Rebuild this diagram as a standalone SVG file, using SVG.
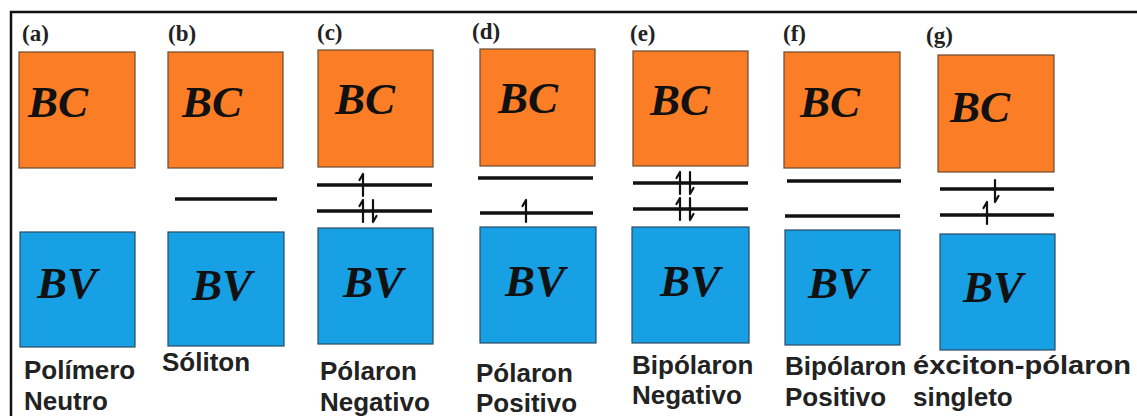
<svg xmlns="http://www.w3.org/2000/svg" width="1137" height="416" viewBox="0 0 1137 416">
<style>
.bc{fill:#FB7E27;stroke:#6b4a30;stroke-width:1.2}
.bv{fill:#17A0E4;stroke:#2a4a66;stroke-width:1.2}
.bt{font-family:"Liberation Serif",serif;font-weight:bold;font-style:italic;font-size:45px;fill:#111}
.tag{font-family:"Liberation Serif",serif;font-weight:bold;font-size:23px;fill:#222}
.lab{font-family:"Liberation Sans",Arial,sans-serif;font-weight:bold;font-size:26px;fill:#222}
.lvl{stroke:#111;stroke-width:3.5;fill:none}
.sp{stroke:#111;stroke-width:2.2;fill:none;stroke-linecap:round}
</style>
<defs>
<path id="up" d="M0,11 V-11 M0,-11 L-3.5,-5" class="sp"/>
<path id="dn" d="M0,-11 V11 M0,11 L3.5,5" class="sp"/>
</defs>
<rect width="1137" height="416" fill="#fff"/>
<path d="M11,416 V12 H1137" stroke="#111" stroke-width="2.5" fill="none"/>

<g id="a">
<text class="tag" x="22" y="41">(a)</text>
<rect class="bc" x="19" y="52" width="116" height="116"/>
<text class="bt" x="28" y="117">BC</text>
<rect class="bv" x="20" y="232" width="115" height="115"/>
<text class="bt" x="37" y="298">BV</text>
<text class="lab" x="24" y="379">Polímero</text>
<text class="lab" x="24" y="410">Neutro</text>
</g>

<g id="b">
<text class="tag" x="168" y="41">(b)</text>
<rect class="bc" x="168" y="52" width="115" height="116"/>
<text class="bt" x="182" y="117">BC</text>
<rect class="bv" x="168" y="232" width="116" height="114"/>
<text class="bt" x="192" y="300">BV</text>
<text class="lab" x="162" y="371">Sóliton</text>
</g>

<g id="c">
<text class="tag" x="317" y="40">(c)</text>
<rect class="bc" x="318" y="50" width="115" height="117"/>
<text class="bt" x="335" y="114">BC</text>
<rect class="bv" x="318" y="228" width="115" height="116"/>
<text class="bt" x="343" y="297">BV</text>
<text class="lab" x="320" y="380">Pólaron</text>
<text class="lab" x="320" y="411">Negativo</text>
</g>

<g id="d">
<text class="tag" x="472" y="39">(d)</text>
<rect class="bc" x="480" y="49" width="115" height="117"/>
<text class="bt" x="498" y="113">BC</text>
<rect class="bv" x="480" y="227" width="116" height="116"/>
<text class="bt" x="505" y="296">BV</text>
<text class="lab" x="476" y="382">Pólaron</text>
<text class="lab" x="476" y="412">Positivo</text>
</g>

<g id="e">
<text class="tag" x="630" y="41">(e)</text>
<rect class="bc" x="633" y="51" width="115" height="115"/>
<text class="bt" x="650" y="115">BC</text>
<rect class="bv" x="632" y="227" width="117" height="116"/>
<text class="bt" x="660" y="296">BV</text>
<text class="lab" x="632" y="374">Bipólaron</text>
<text class="lab" x="632" y="404">Negativo</text>
</g>

<g id="f">
<text class="tag" x="783" y="41">(f)</text>
<rect class="bc" x="784" y="52" width="116" height="116"/>
<text class="bt" x="800" y="117">BC</text>
<rect class="bv" x="785" y="230" width="115" height="115"/>
<text class="bt" x="808" y="298">BV</text>
<text class="lab" x="785" y="375">Bipólaron</text>
<text class="lab" x="785" y="406">Positivo</text>
</g>

<g id="g">
<text class="tag" x="926" y="43">(g)</text>
<rect class="bc" x="938" y="55" width="116" height="117"/>
<text class="bt" x="950" y="122">BC</text>
<rect class="bv" x="940" y="234" width="115" height="116"/>
<text class="bt" x="963" y="302">BV</text>
<text class="lab" x="913" y="374" textLength="218" lengthAdjust="spacingAndGlyphs">éxciton-pólaron</text>
<text class="lab" x="913" y="406">singleto</text>
</g>

<g id="levels">
<line class="lvl" x1="175" y1="199" x2="277" y2="199"/>
<line class="lvl" x1="317" y1="185" x2="432" y2="185"/>
<line class="lvl" x1="317" y1="211" x2="432" y2="211"/>
<use href="#up" x="363" y="185"/>
<use href="#up" x="363" y="211"/>
<use href="#dn" x="373" y="211"/>
<line class="lvl" x1="478" y1="178" x2="593" y2="178"/>
<line class="lvl" x1="480" y1="213" x2="593" y2="213"/>
<use href="#up" x="526" y="211"/>
<line class="lvl" x1="633" y1="183" x2="748" y2="183"/>
<line class="lvl" x1="633" y1="209" x2="748" y2="209"/>
<use href="#up" x="680" y="183"/>
<use href="#dn" x="690" y="183"/>
<use href="#up" x="680" y="209"/>
<use href="#dn" x="690" y="209"/>
<line class="lvl" x1="787" y1="181" x2="901" y2="181"/>
<line class="lvl" x1="785" y1="216" x2="900" y2="216"/>
<line class="lvl" x1="940" y1="189" x2="1054" y2="189"/>
<line class="lvl" x1="940" y1="215" x2="1054" y2="215"/>
<use href="#dn" x="995" y="191"/>
<use href="#up" x="987" y="213"/>
</g>
</svg>
